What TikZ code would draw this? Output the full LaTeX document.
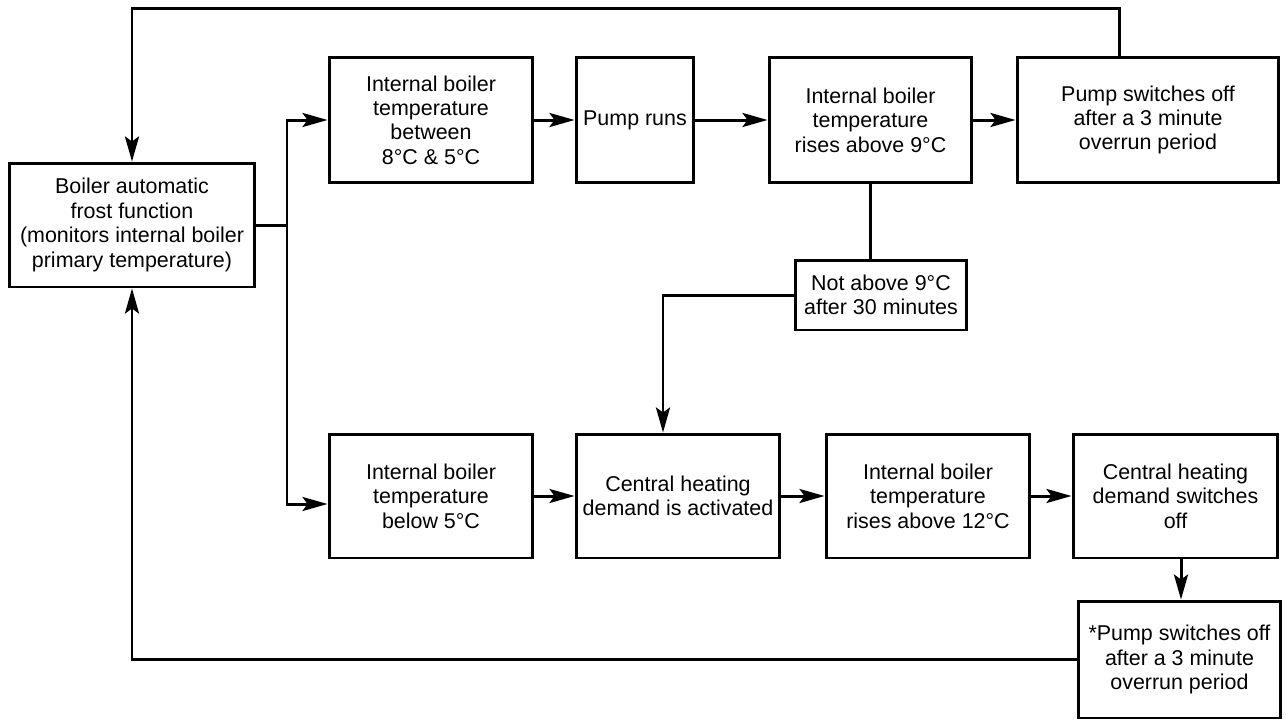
\documentclass[tikz,border=0pt]{standalone}
\usepackage{fontspec}
\setmainfont{Liberation Sans}
\usetikzlibrary{arrows.meta}
\begin{document}
\begin{tikzpicture}[x=0.02cm,y=-0.02cm,
  box/.style={draw, line width=1.7pt, align=center, inner sep=2pt,
    font=\fontsize{12.2}{13.9}\selectfont},
  conn/.style={line width=1.7pt},
  arr/.style={conn, -{Stealth[length=0.5cm,width=0.28cm,inset=0.1cm]}}]
\useasboundingbox (0,0) rectangle (1286,725);
\node[box, minimum width=4.92cm, minimum height=2.48cm] (A) at (132,225)
  {Boiler automatic\\frost function\\(monitors internal boiler\\primary temperature)};
\node[box, minimum width=4.08cm, minimum height=2.5cm] (B1) at (431,120)
  {Internal boiler\\temperature\\between\\8°C \& 5°C};
\node[box, minimum width=2.36cm, minimum height=2.5cm] (B2) at (635,120)
  {Pump runs};
\node[box, minimum width=4.06cm, minimum height=2.5cm] (B3) at (870.5,120)
  {Internal boiler\\temperature\\rises above 9°C};
\node[box, minimum width=5.24cm, minimum height=2.5cm] (B4) at (1148,120)
  {Pump switches off\\after a 3 minute\\overrun period};
\node[box, minimum width=3.44cm, minimum height=1.4cm] (N) at (881,295)
  {Not above 9°C\\after 30 minutes};
\node[box, minimum width=4.08cm, minimum height=2.48cm] (C1) at (431,496)
  {Internal boiler\\temperature\\below 5°C};
\node[box, minimum width=4.08cm, minimum height=2.48cm] (C2) at (678,496)
  {Central heating\\demand is activated};
\node[box, minimum width=4.08cm, minimum height=2.48cm] (C3) at (928,496)
  {Internal boiler\\temperature\\rises above 12°C};
\node[box, minimum width=4.1cm, minimum height=2.48cm] (C4) at (1175.5,496)
  {Central heating\\demand switches\\off};
\node[box, minimum width=4.06cm, minimum height=2.34cm] (C5) at (1179.5,659.5)
  {*Pump switches off\\after a 3 minute\\overrun period};

\coordinate (t1) at (1119,8);
\coordinate (t2) at (132,8);
\coordinate (j) at (287,225);
\coordinate (jb) at (287,504);
\coordinate (n1) at (663,295);
\coordinate (c4s) at (1181,0);

\draw[arr] (B4.north -| t1) -- (t1) -- (t2) -- (A.north);
\draw[arr] (C5.west) -| (A.south);
\draw[conn] (A.east) -- (j);
\draw[arr] (j) |- (B1.west);
\draw[arr] (j) -- (jb) -- (C1.west |- jb);
\draw[arr] (B1) -- (B2);
\draw[arr] (B2) -- (B3);
\draw[arr] (B3) -- (B4);
\draw[conn] (B3.south) -- (B3.south |- N.north);
\draw[arr] (N.west) -- (n1) -- (n1 |- C2.north);
\draw[arr] (C1) -- (C2);
\draw[arr] (C2) -- (C3);
\draw[arr] (C3) -- (C4);
\draw[arr] (C4.south -| c4s) -- (C5.north -| c4s);
\end{tikzpicture}
\end{document}
